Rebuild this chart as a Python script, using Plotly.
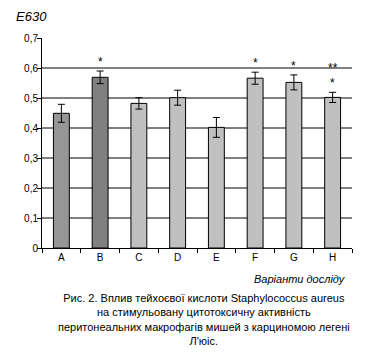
import plotly.graph_objects as go

categories = ["A", "B", "C", "D", "E", "F", "G", "H"]
values = [0.449, 0.569, 0.482, 0.501, 0.402, 0.566, 0.552, 0.502]
errors = [0.030, 0.021, 0.019, 0.025, 0.033, 0.020, 0.025, 0.017]
colors = ["#969696", "#808080", "#C0C0C0", "#C0C0C0", "#C0C0C0", "#C0C0C0", "#C0C0C0", "#C0C0C0"]
stars = ["", "*", "", "", "", "*", "*", "*"]
stars2 = ["", "", "", "", "", "", "", "**"]
grid_vals = [0.1, 0.2, 0.3, 0.4, 0.5, 0.6]

FONT = "Arial, Liberation Sans, sans-serif"

fig = go.Figure()
fig.add_trace(go.Bar(
    x=categories, y=values,
    marker=dict(color=colors, line=dict(color="black", width=1)),
    error_y=dict(type="data", array=errors, color="black", thickness=1, width=3.5),
    showlegend=False,
))

for g in grid_vals:
    fig.add_shape(type="line", xref="paper", yref="y", x0=0, x1=1, y0=g, y1=g,
                  line=dict(color="black", width=1), layer="below")

for c, v, e, s in zip(categories, values, errors, stars):
    if s:
        fig.add_annotation(x=c, y=v + e, text=s, showarrow=False, yanchor="bottom",
                           yshift=0, font=dict(family=FONT, size=12, color="black"))
for c, v, e, s in zip(categories, values, errors, stars2):
    if s:
        fig.add_annotation(x=c, y=v + e, text=s, showarrow=False, yanchor="bottom",
                           yshift=15, font=dict(family=FONT, size=12, color="black"))

fig.add_annotation(xref="paper", yref="paper", x=-28/310, y=1 + 21/210, text="<i>E630</i>",
                   showarrow=False, xanchor="left", yanchor="middle",
                   font=dict(family=FONT, size=13, color="black"))
fig.add_annotation(xref="paper", yref="paper", x=1 - 4/310, y=-31/210, text="<i>Варіанти досліду</i>",
                   showarrow=False, xanchor="right", yanchor="middle",
                   font=dict(family=FONT, size=11, color="black"))
caption = ("Рис. 2. Вплив тейхоєвої кислоти Staphylococcus aureus<br>"
           "на стимульовану цитотоксичну активність<br>"
           "перитонеальних макрофагів мишей з карциномою легені<br>"
           "Л'юіс.")
fig.add_annotation(xref="paper", yref="paper", x=(204 - 42) / 310, y=-(290 - 248) / 210, text=caption,
                   showarrow=False, xanchor="center", yanchor="top", align="center",
                   font=dict(family=FONT, size=11, color="black"))

# page body has an 8px margin; margins compensate so the plot area sits at x 42-352, y 38-248
fig.update_layout(
    width=385, height=360,
    margin=dict(l=34, r=41, t=30, b=120, autoexpand=False),
    paper_bgcolor="white", plot_bgcolor="white",
    bargap=0.59,
    font=dict(family=FONT, size=10, color="black"),
    xaxis=dict(showline=True, linecolor="black", linewidth=1, ticks="outside", ticklen=4,
               tickcolor="black", tickson="boundaries", showgrid=False, tickfont=dict(size=10),
               automargin=False),
    yaxis=dict(range=[0, 0.7], showline=True, linecolor="black", linewidth=1,
               ticks="outside", ticklen=4, tickcolor="black", showgrid=False, zeroline=False,
               tickfont=dict(size=10), ticklabelstandoff=-3, automargin=False,
               tickvals=[0, 0.1, 0.2, 0.3, 0.4, 0.5, 0.6, 0.7],
               ticktext=["0", "0,1", "0,2", "0,3", "0,4", "0,5", "0,6", "0,7"]),
)

fig.write_html("out.html")
